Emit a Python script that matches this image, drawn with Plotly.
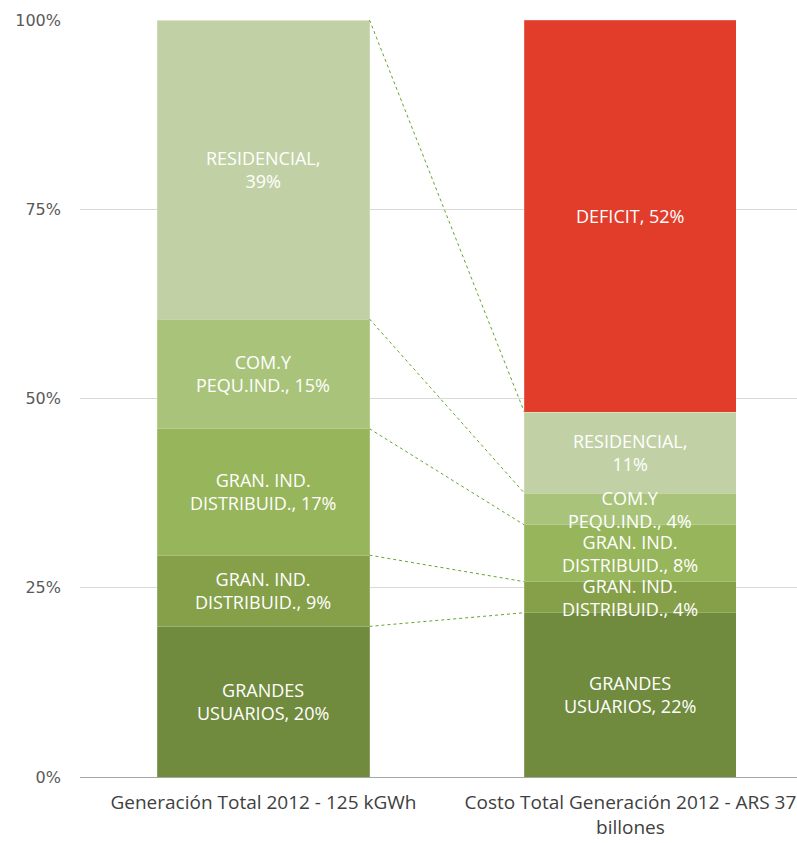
import plotly.graph_objects as go
import numpy as np

categories = ["Generación Total 2012 - 125 kGWh", "Costo Total Generación 2012 - ARS 37<br>billones"]
series_names = ["GRANDES USUARIOS", "GRAN. IND. DISTRIBUID. (a)", "GRAN. IND. DISTRIBUID. (b)",
                "COM.Y PEQU.IND.", "RESIDENCIAL", "DEFICIT"]
left_values = [19.9, 9.4, 16.7, 14.5, 39.5, 0.0]
right_values = [21.7, 4.1, 7.5, 4.2, 10.7, 51.8]
left_labels = ["GRANDES<br>USUARIOS, 20%", "GRAN. IND.<br>DISTRIBUID., 9%", "GRAN. IND.<br>DISTRIBUID., 17%",
               "COM.Y<br>PEQU.IND., 15%", "RESIDENCIAL,<br>39%", ""]
right_labels = ["GRANDES<br>USUARIOS, 22%", "GRAN. IND.<br>DISTRIBUID., 4%", "GRAN. IND.<br>DISTRIBUID., 8%",
                "COM.Y<br>PEQU.IND., 4%", "RESIDENCIAL,<br>11%", "DEFICIT, 52%"]
y_tick_vals = [0, 25, 50, 75, 100]
y_tick_text = ["0%", "25%", "50%", "75%", "100%"]
colors = ["#718B3E", "#86A04A", "#97B55A", "#A9C47A", "#C2D1A5", "#E23D2B"]

BAR_W = 0.578
xs = [0, 1]
fig = go.Figure()
for i, name in enumerate(series_names):
    fig.add_trace(go.Bar(x=xs, y=[left_values[i], right_values[i]], name=name,
                         marker=dict(color=colors[i], line=dict(color="rgba(255,255,255,0.35)", width=0.5)),
                         width=BAR_W, showlegend=False, hoverinfo="skip"))

font_lbl = "'Open Sans', sans-serif"
cum_l = np.concatenate([[0], np.cumsum(left_values)])
cum_r = np.concatenate([[0], np.cumsum(right_values)])
for i in range(len(series_names)):
    for x, vals, cum, labs in [(0, left_values, cum_l, left_labels), (1, right_values, cum_r, right_labels)]:
        if vals[i] <= 0 or not labs[i]:
            continue
        fig.add_annotation(x=x, y=(cum[i] + cum[i + 1]) / 2, text=labs[i], showarrow=False,
                           font=dict(family=font_lbl, size=18, color="white"), xref="x", yref="y",
                           align="center")

# connector lines between segment boundaries
for i in [1, 2, 3, 4, 5]:
    fig.add_shape(type="line", x0=0 + BAR_W / 2, x1=1 - BAR_W / 2, y0=cum_l[i], y1=cum_r[i],
                  xref="x", yref="y", line=dict(color="#5EA82E", width=1, dash="dot"))

fig.update_layout(
    barmode="stack",
    width=797, height=843,
    margin=dict(l=80, r=0, t=20, b=66),
    plot_bgcolor="white", paper_bgcolor="white",
    xaxis=dict(range=[-0.5, 1.454], tickvals=xs, ticktext=categories, showgrid=False,
               showline=True, linecolor="#A6A6A6", linewidth=1, ticks="",
               tickfont=dict(family=font_lbl, size=19, color="#404040"), ticklabelstandoff=8,
               fixedrange=True),
    yaxis=dict(range=[0, 100], tickvals=y_tick_vals, ticktext=y_tick_text,
               showgrid=True, gridcolor="#D9D9D9", gridwidth=1, zeroline=False,
               tickfont=dict(family="Verdana, 'DejaVu Sans', sans-serif", size=16, color="#595959"),
               ticklabelstandoff=18),
)
fig.write_html("out.html")
